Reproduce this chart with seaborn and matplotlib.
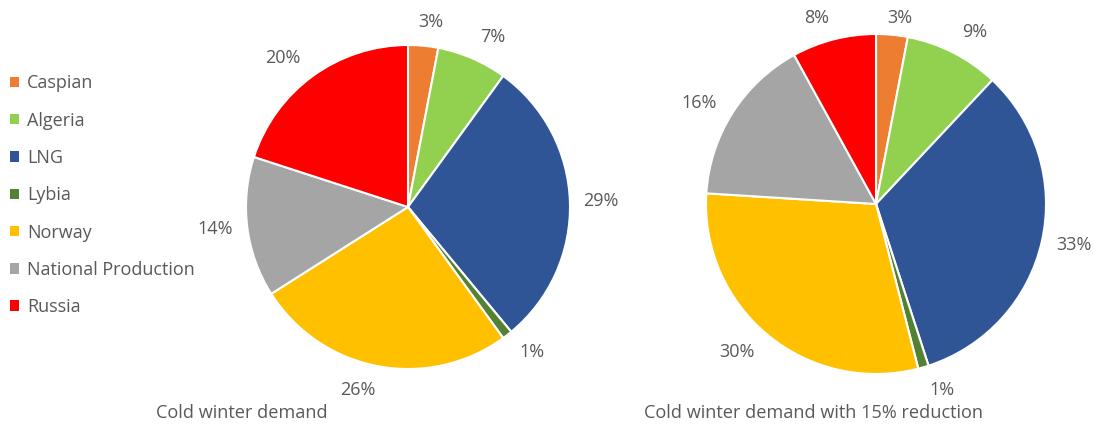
import matplotlib
matplotlib.use("Agg")
import numpy as np
import matplotlib.pyplot as plt
import seaborn as sns
from matplotlib.patches import Patch

sources = ["Caspian", "Algeria", "LNG", "Lybia", "Norway", "National Production", "Russia"]
cold_winter = [3, 7, 29, 1, 26, 14, 20]
cold_winter_reduced = [3, 9, 33, 1, 30, 16, 8]
titles = ["Cold winter demand", "Cold winter demand with 15% reduction"]

sns.set_theme(style="white")
plt.rcParams["font.family"] = ["Open Sans", "DejaVu Sans"]
colors = sns.color_palette(["#ED7D31", "#92D050", "#2F5597", "#548235",
                            "#FFC000", "#A5A5A5", "#FF0000"])
text_col = "#595959"

W, H = 1094, 428
fig = plt.figure(figsize=(W / 100, H / 100), dpi=100)

# (center x, center y from top, radius) in pixels
layout = [(408, 207, 162), (876, 204, 170)]
title_pos = [(242, 413), (814, 413)]

pies = []
for vals, (cx, cy, r), title, (tx, ty) in zip([cold_winter, cold_winter_reduced],
                                             layout, titles, title_pos):
    half = 1.4 * r
    ax = fig.add_axes([(cx - half) / W, (H - cy - half) / H, 2 * half / W, 2 * half / H])
    wedges, _, pcts = ax.pie(vals, colors=colors, startangle=90, counterclock=False,
                             autopct="%d%%", pctdistance=1.2,
                             wedgeprops=dict(edgecolor="white", linewidth=1.5),
                             textprops=dict(color=text_col, fontsize=13))
    ax.set_xlim(-1.4, 1.4)
    ax.set_ylim(-1.4, 1.4)
    ax.set_aspect("equal")
    ax.axis("off")
    pies.append((ax, wedges, pcts))
    fig.text(tx / W, 1 - ty / H, title, ha="center", va="center",
             fontsize=13.1, color=text_col)

# Excel-like label placement: the middle of the label's inner side sits on
# the wedge's mid ray, a little outside the pie
fig.canvas.draw()
renderer = fig.canvas.get_renderer()
for ax, wedges, pcts in pies:
    c = ax.transData.transform((0, 0))
    rpx = ax.transData.transform((1, 0))[0] - c[0]
    for w, t in zip(wedges, pcts):
        ang = np.deg2rad((w.theta1 + w.theta2) / 2)
        u = np.array([np.cos(ang), np.sin(ang)])
        hw = t.get_window_extent(renderer).width / 2 - 1
        d = rpx + 14 + 10 * abs(u[1])
        p = c + d * u
        p[0] += hw * np.clip(u[0] * 5, -1, 1)
        p[1] = min(p[1], H - 18)  # keep inside the chart area
        t.set_position(ax.transData.inverted().transform(p))

handles = [Patch(facecolor=c, edgecolor="none") for c in colors]
fig.legend(handles, sources, loc="upper left", bbox_to_anchor=(2.5 / W, 1 - 67 / H),
           frameon=False, fontsize=13, labelcolor=text_col,
           handlelength=0.52, handleheight=0.52, handletextpad=0.45,
           labelspacing=1.07, borderaxespad=0)

fig.savefig("out.png", dpi=100)
